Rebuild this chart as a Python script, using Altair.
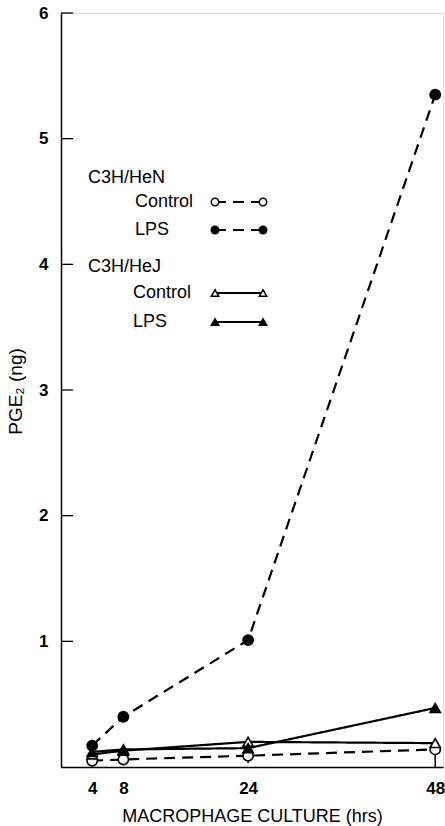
import altair as alt
import pandas as pd

# ---- data ----
hours = [4, 8, 24, 48]
hen_control = [0.05, 0.06, 0.09, 0.14]
hen_lps = [0.17, 0.40, 1.01, 5.35]
hej_control = [0.10, 0.13, 0.20, 0.19]
hej_lps = [0.12, 0.14, 0.15, 0.47]
# lower whiskers on the HeN control points (None = no bar visible)
hen_control_low = [None, None, 0.03, 0.0]

series_names = ["HeN Control", "HeN LPS", "HeJ Control", "HeJ LPS"]
y_ticks = [1, 2, 3, 4, 5, 6]
x_ticks = [4, 8, 24, 48]

legend_texts = ["C3H/HeN", "Control", "LPS", "C3H/HeJ", "Control", "LPS"]
legend_series = [None, "HeN Control", "HeN LPS", None, "HeJ Control", "HeJ LPS"]

# ---- layout (pixels, relative to plot origin) ----
W, H = 382, 754
TICK_LEN_HRS = 1.55
legend_text_x = [27, 74, 74, 27, 72, 72]
legend_text_y = [165, 189, 217, 254, 280, 309]
legend_line_x1, legend_line_x2 = 154, 202

FONT = "Liberation Sans"

rows = []
for name, vals in zip(series_names, [hen_control, hen_lps, hej_control, hej_lps]):
    for h, v in zip(hours, vals):
        rows.append({"series": name, "hours": h, "value": v})
df = pd.DataFrame(rows)

err = pd.DataFrame([
    {"hours": h, "lo": lo, "value": v}
    for h, lo, v in zip(hours, hen_control_low, hen_control) if lo is not None
])

dash_scale = alt.Scale(domain=series_names, range=[[11, 7], [11, 7], [1, 0], [1, 0]])
leg_dash_scale = alt.Scale(domain=series_names, range=[[7, 6], [7, 6], [1, 0], [1, 0]])
shape_scale = alt.Scale(domain=series_names,
                        range=["circle", "circle", "triangle-up", "triangle-up"])
fill_scale = alt.Scale(domain=series_names, range=["white", "black", "white", "black"])

xs = alt.Scale(domain=[0, 49], nice=False, zero=True)
ys = alt.Scale(domain=[0, 6], nice=False)

base = alt.Chart(df)

x_axis = alt.Axis(values=x_ticks, ticks=False, grid=False, labelFont=FONT,
                  labelFontSize=17, labelFontWeight="bold", labelColor="black",
                  labelPadding=13, domainColor="black", domainWidth=1.5,
                  title="MACROPHAGE CULTURE (hrs)", titleFont=FONT,
                  titleFontSize=18, titleFontWeight="normal", titleColor="black",
                  titleY=49, titleBaseline="middle")
y_axis = alt.Axis(values=y_ticks, format="d", ticks=False, grid=False, labelFont=FONT,
                  labelFontSize=17, labelFontWeight="bold", labelColor="black",
                  labelPadding=13, domainColor="black", domainWidth=1.5,
                  title="PGE₂ (ng)", titleFont=FONT, titleFontSize=19,
                  titleFontWeight="normal", titleColor="black",
                  titleX=-46, titleY=H / 2 + 1, titleAngle=-90,
                  titleBaseline="middle", titleAlign="center")

lines = base.mark_line(color="black", strokeWidth=2.2).encode(
    x=alt.X("hours:Q", scale=xs, axis=x_axis),
    y=alt.Y("value:Q", scale=ys, axis=y_axis),
    detail="series:N",
    strokeDash=alt.StrokeDash("series:N", scale=dash_scale, legend=None),
)

whisk = alt.Chart(err).mark_rule(color="black", strokeWidth=1.5).encode(
    x=alt.X("hours:Q", scale=xs),
    y=alt.Y("lo:Q", scale=ys),
    y2="value:Q",
)

points = base.mark_point(stroke="black", strokeWidth=1.6, opacity=1,
                         filled=False, size=105).encode(
    x=alt.X("hours:Q", scale=xs),
    y=alt.Y("value:Q", scale=ys),
    shape=alt.Shape("series:N", scale=shape_scale, legend=None),
    fill=alt.Fill("series:N", scale=fill_scale, legend=None),
)

ticks = alt.Chart(pd.DataFrame({"v": y_ticks})).mark_rule(
    color="black", strokeWidth=1.3).encode(
    x=alt.X(datum=0, scale=xs), x2=alt.X2(datum=TICK_LEN_HRS),
    y=alt.Y("v:Q", scale=ys))

# ---- hand-built legend ----
leg_txt = pd.DataFrame({"label": legend_texts, "px": legend_text_x, "py": legend_text_y})
legend_text = alt.Chart(leg_txt).mark_text(
    align="left", baseline="middle", font=FONT, fontSize=18, color="black").encode(
    x=alt.X("px:Q", scale=None), y=alt.Y("py:Q", scale=None), text="label:N")

leg_rows = [{"series": s, "py": py} for s, py in zip(legend_series, legend_text_y) if s]
leg_df = pd.DataFrame(leg_rows)
legend_lines = alt.Chart(leg_df).mark_rule(color="black", strokeWidth=2).encode(
    x=alt.value(legend_line_x1), x2=alt.value(legend_line_x2),
    y=alt.Y("py:Q", scale=None),
    strokeDash=alt.StrokeDash("series:N", scale=leg_dash_scale, legend=None),
)
legend_pts = []
for px in (legend_line_x1, legend_line_x2):
    legend_pts.append(alt.Chart(leg_df).mark_point(
        stroke="black", strokeWidth=1.5, opacity=1, size=55).encode(
        x=alt.value(px), y=alt.Y("py:Q", scale=None),
        shape=alt.Shape("series:N", scale=shape_scale, legend=None),
        fill=alt.Fill("series:N", scale=fill_scale, legend=None),
    ))

chart = alt.layer(lines, whisk, points, ticks, legend_text, legend_lines, *legend_pts).properties(
    width=W, height=H,
    autosize=alt.AutoSizeParams(type="none"),
    padding={"left": 61, "top": 13, "right": 2, "bottom": 59},
).configure_view(stroke=None).configure(background="white")

chart.save("out.html", embed_options={"renderer": "svg", "actions": False})
